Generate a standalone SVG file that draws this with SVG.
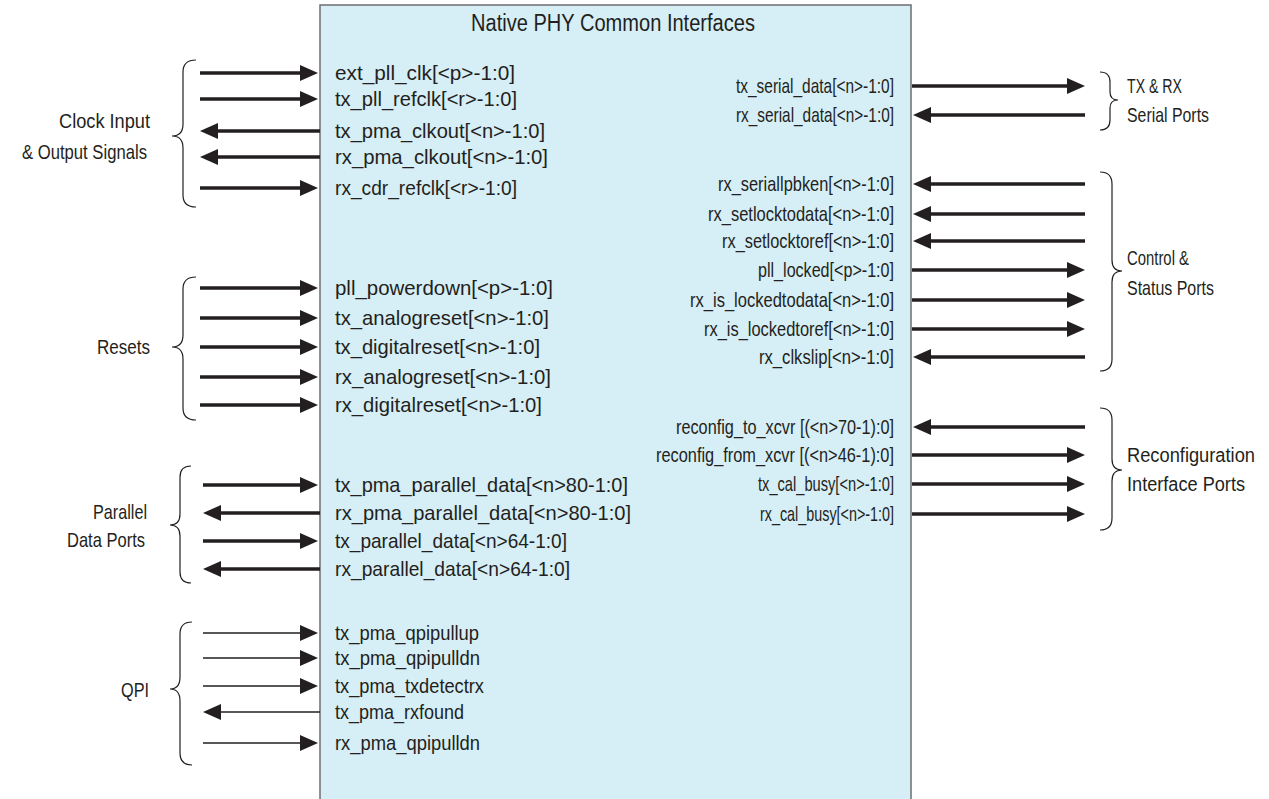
<svg xmlns="http://www.w3.org/2000/svg" width="1269" height="799" viewBox="0 0 1269 799">
<style>
text{font-family:"Liberation Sans",Arial,sans-serif;font-size:21px;fill:#231f20}
.n{font-family:"Liberation Sans Narrow","Liberation Sans",Arial,sans-serif}
.title{font-size:23px}
.s{font-size:19.5px}
.e{text-anchor:end}
.w{stroke:#231f20;stroke-width:3.5;fill:none;marker-end:url(#ah)}
.t{stroke:#231f20;stroke-width:1.5;fill:none;marker-end:url(#ah)}
.br{stroke:#231f20;stroke-width:1.2;fill:none}
</style>
<defs>
<marker id="ah" markerUnits="userSpaceOnUse" markerWidth="18" markerHeight="16" viewBox="0 0 18 16" refX="8" refY="8" orient="auto">
<path d="M0,0 L18,8 L0,16 z" fill="#231f20"/>
</marker>
</defs>
<rect width="1269" height="799" fill="#fff"/>
<g id="block">
<rect x="320" y="5" width="591" height="800" fill="#d6eef6" stroke="#6d6e71" stroke-width="1.5"/>
<text class="title n" x="613" y="31" text-anchor="middle" textLength="284" lengthAdjust="spacingAndGlyphs">Native PHY Common Interfaces</text>
</g>
<g id="left-ports">
<text x="335" y="80" textLength="180" lengthAdjust="spacingAndGlyphs">ext_pll_clk[&lt;p&gt;-1:0]</text>
<text x="335" y="106" textLength="182" lengthAdjust="spacingAndGlyphs">tx_pll_refclk[&lt;r&gt;-1:0]</text>
<text x="335" y="138" textLength="210" lengthAdjust="spacingAndGlyphs">tx_pma_clkout[&lt;n&gt;-1:0]</text>
<text x="335" y="164" textLength="213" lengthAdjust="spacingAndGlyphs">rx_pma_clkout[&lt;n&gt;-1:0]</text>
<text x="335" y="195" textLength="182" lengthAdjust="spacingAndGlyphs">rx_cdr_refclk[&lt;r&gt;-1:0]</text>
<text x="335" y="295" textLength="218" lengthAdjust="spacingAndGlyphs">pll_powerdown[&lt;p&gt;-1:0]</text>
<text x="335" y="325" textLength="214" lengthAdjust="spacingAndGlyphs">tx_analogreset[&lt;n&gt;-1:0]</text>
<text x="335" y="354" textLength="205" lengthAdjust="spacingAndGlyphs">tx_digitalreset[&lt;n&gt;-1:0]</text>
<text x="335" y="384" textLength="216" lengthAdjust="spacingAndGlyphs">rx_analogreset[&lt;n&gt;-1:0]</text>
<text x="335" y="412" textLength="207" lengthAdjust="spacingAndGlyphs">rx_digitalreset[&lt;n&gt;-1:0]</text>
<text x="335" y="492" textLength="293" lengthAdjust="spacingAndGlyphs">tx_pma_parallel_data[&lt;n&gt;80-1:0]</text>
<text x="335" y="520" textLength="296" lengthAdjust="spacingAndGlyphs">rx_pma_parallel_data[&lt;n&gt;80-1:0]</text>
<text x="335" y="548" textLength="232" lengthAdjust="spacingAndGlyphs">tx_parallel_data[&lt;n&gt;64-1:0]</text>
<text x="335" y="576" textLength="235" lengthAdjust="spacingAndGlyphs">rx_parallel_data[&lt;n&gt;64-1:0]</text>
<text x="335" y="640" textLength="144" lengthAdjust="spacingAndGlyphs">tx_pma_qpipullup</text>
<text x="335" y="665" textLength="145" lengthAdjust="spacingAndGlyphs">tx_pma_qpipulldn</text>
<text x="335" y="693" textLength="149" lengthAdjust="spacingAndGlyphs">tx_pma_txdetectrx</text>
<text x="335" y="719" textLength="129" lengthAdjust="spacingAndGlyphs">tx_pma_rxfound</text>
<text x="335" y="750" textLength="145" lengthAdjust="spacingAndGlyphs">rx_pma_qpipulldn</text>
</g>
<g id="right-ports">
<text class="e n" x="894" y="93" textLength="158" lengthAdjust="spacingAndGlyphs">tx_serial_data[&lt;n&gt;-1:0]</text>
<text class="e n" x="894" y="122" textLength="158" lengthAdjust="spacingAndGlyphs">rx_serial_data[&lt;n&gt;-1:0]</text>
<text class="e n" x="894" y="191" textLength="176" lengthAdjust="spacingAndGlyphs">rx_seriallpbken[&lt;n&gt;-1:0]</text>
<text class="e n" x="894" y="221" textLength="186" lengthAdjust="spacingAndGlyphs">rx_setlocktodata[&lt;n&gt;-1:0]</text>
<text class="e n" x="894" y="248" textLength="172" lengthAdjust="spacingAndGlyphs">rx_setlocktoref[&lt;n&gt;-1:0]</text>
<text class="e n" x="894" y="277" textLength="136" lengthAdjust="spacingAndGlyphs">pll_locked[&lt;p&gt;-1:0]</text>
<text class="e n" x="894" y="307" textLength="204" lengthAdjust="spacingAndGlyphs">rx_is_lockedtodata[&lt;n&gt;-1:0]</text>
<text class="e n" x="894" y="336" textLength="190" lengthAdjust="spacingAndGlyphs">rx_is_lockedtoref[&lt;n&gt;-1:0]</text>
<text class="e n" x="894" y="364" textLength="135" lengthAdjust="spacingAndGlyphs">rx_clkslip[&lt;n&gt;-1:0]</text>
<text class="e n" x="894" y="434" textLength="218" lengthAdjust="spacingAndGlyphs">reconfig_to_xcvr [(&lt;n&gt;70-1):0]</text>
<text class="e n" x="894" y="462" textLength="238" lengthAdjust="spacingAndGlyphs">reconfig_from_xcvr [(&lt;n&gt;46-1):0]</text>
<text class="e n" x="894" y="491" textLength="136" lengthAdjust="spacingAndGlyphs">tx_cal_busy[&lt;n&gt;-1:0]</text>
<text class="e n" x="894" y="521" textLength="134" lengthAdjust="spacingAndGlyphs">rx_cal_busy[&lt;n&gt;-1:0]</text>
</g>
<g id="connectors">
<line class="w" x1="200" y1="73" x2="308" y2="73"/>
<line class="w" x1="200" y1="99" x2="308" y2="99"/>
<line class="w" x1="320" y1="131" x2="210" y2="131"/>
<line class="w" x1="320" y1="157" x2="210" y2="157"/>
<line class="w" x1="200" y1="188" x2="308" y2="188"/>
<line class="w" x1="200" y1="288" x2="308" y2="288"/>
<line class="w" x1="200" y1="318" x2="308" y2="318"/>
<line class="w" x1="200" y1="347" x2="308" y2="347"/>
<line class="w" x1="200" y1="377" x2="308" y2="377"/>
<line class="w" x1="200" y1="405" x2="308" y2="405"/>
<line class="w" x1="203" y1="485" x2="308" y2="485"/>
<line class="w" x1="320" y1="513" x2="213" y2="513"/>
<line class="w" x1="203" y1="541" x2="308" y2="541"/>
<line class="w" x1="320" y1="569" x2="213" y2="569"/>
<line class="t" x1="203" y1="633" x2="308" y2="633"/>
<line class="t" x1="203" y1="658" x2="308" y2="658"/>
<line class="t" x1="203" y1="686" x2="308" y2="686"/>
<line class="t" x1="320" y1="712" x2="213" y2="712"/>
<line class="t" x1="203" y1="743" x2="308" y2="743"/>
<line class="w" x1="912" y1="86" x2="1075" y2="86"/>
<line class="w" x1="1085" y1="115" x2="923" y2="115"/>
<line class="w" x1="1085" y1="184" x2="923" y2="184"/>
<line class="w" x1="1085" y1="214" x2="923" y2="214"/>
<line class="w" x1="1085" y1="241" x2="923" y2="241"/>
<line class="w" x1="912" y1="270" x2="1075" y2="270"/>
<line class="w" x1="912" y1="300" x2="1075" y2="300"/>
<line class="w" x1="912" y1="329" x2="1075" y2="329"/>
<line class="w" x1="1085" y1="357" x2="923" y2="357"/>
<line class="w" x1="1085" y1="427" x2="923" y2="427"/>
<line class="w" x1="912" y1="455" x2="1075" y2="455"/>
<line class="w" x1="912" y1="484" x2="1075" y2="484"/>
<line class="w" x1="912" y1="514" x2="1075" y2="514"/>
</g>
<g id="group-clock">
<path class="br" d="M196,60 Q183,60 183,72 L183,124 Q183,136 172,136 Q183,136 183,148 L183,195 Q183,207 196,207"/>
<text class="e n" x="150" y="128" textLength="91" lengthAdjust="spacingAndGlyphs">Clock Input</text>
<text class="e n" x="147" y="159" textLength="125" lengthAdjust="spacingAndGlyphs">&amp; Output Signals</text>
</g>
<g id="group-resets">
<path class="br" d="M196,277 Q183,277 183,289 L183,335 Q183,347 172,347 Q183,347 183,359 L183,408 Q183,420 196,420"/>
<text class="e n" x="150" y="354" textLength="53" lengthAdjust="spacingAndGlyphs">Resets</text>
</g>
<g id="group-parallel">
<path class="br" d="M191,466 Q180,466 180,477 L180,514 Q180,525 170,525 Q180,525 180,536 L180,572 Q180,583 191,583"/>
<text class="e n" x="147" y="519" textLength="54" lengthAdjust="spacingAndGlyphs">Parallel</text>
<text class="e n" x="145" y="547" textLength="78" lengthAdjust="spacingAndGlyphs">Data Ports</text>
</g>
<g id="group-qpi">
<path class="br" d="M192,622 Q180,622 180,634 L180,677 Q180,689 170,689 Q180,689 180,701 L180,753 Q180,765 192,765"/>
<text class="e n" x="149" y="697" textLength="28" lengthAdjust="spacingAndGlyphs">QPI</text>
</g>
<g id="group-serial">
<path class="br" d="M1100,72 Q1110,72 1110,82 L1110,92 Q1110,100 1118,100 Q1110,100 1110,108 L1110,120 Q1110,130 1100,130"/>
<text class="n" x="1127" y="93" textLength="55" lengthAdjust="spacingAndGlyphs">TX &amp; RX</text>
<text class="n" x="1127" y="122" textLength="82" lengthAdjust="spacingAndGlyphs">Serial Ports</text>
</g>
<g id="group-control">
<path class="br" d="M1100,172 Q1112,172 1112,184 L1112,260 Q1112,271 1122,271 Q1112,271 1112,282 L1112,359 Q1112,371 1100,371"/>
<text class="n" x="1127" y="265" textLength="62" lengthAdjust="spacingAndGlyphs">Control &amp;</text>
<text class="n" x="1127" y="295" textLength="87" lengthAdjust="spacingAndGlyphs">Status Ports</text>
</g>
<g id="group-reconfig">
<path class="br" d="M1100,408 Q1112,408 1112,420 L1112,459 Q1112,470 1122,470 Q1112,470 1112,481 L1112,518 Q1112,530 1100,530"/>
<text class="n s" x="1127" y="462" textLength="128" lengthAdjust="spacingAndGlyphs">Reconfiguration</text>
<text class="n s" x="1127" y="491" textLength="118" lengthAdjust="spacingAndGlyphs">Interface Ports</text>
</g>
</svg>
